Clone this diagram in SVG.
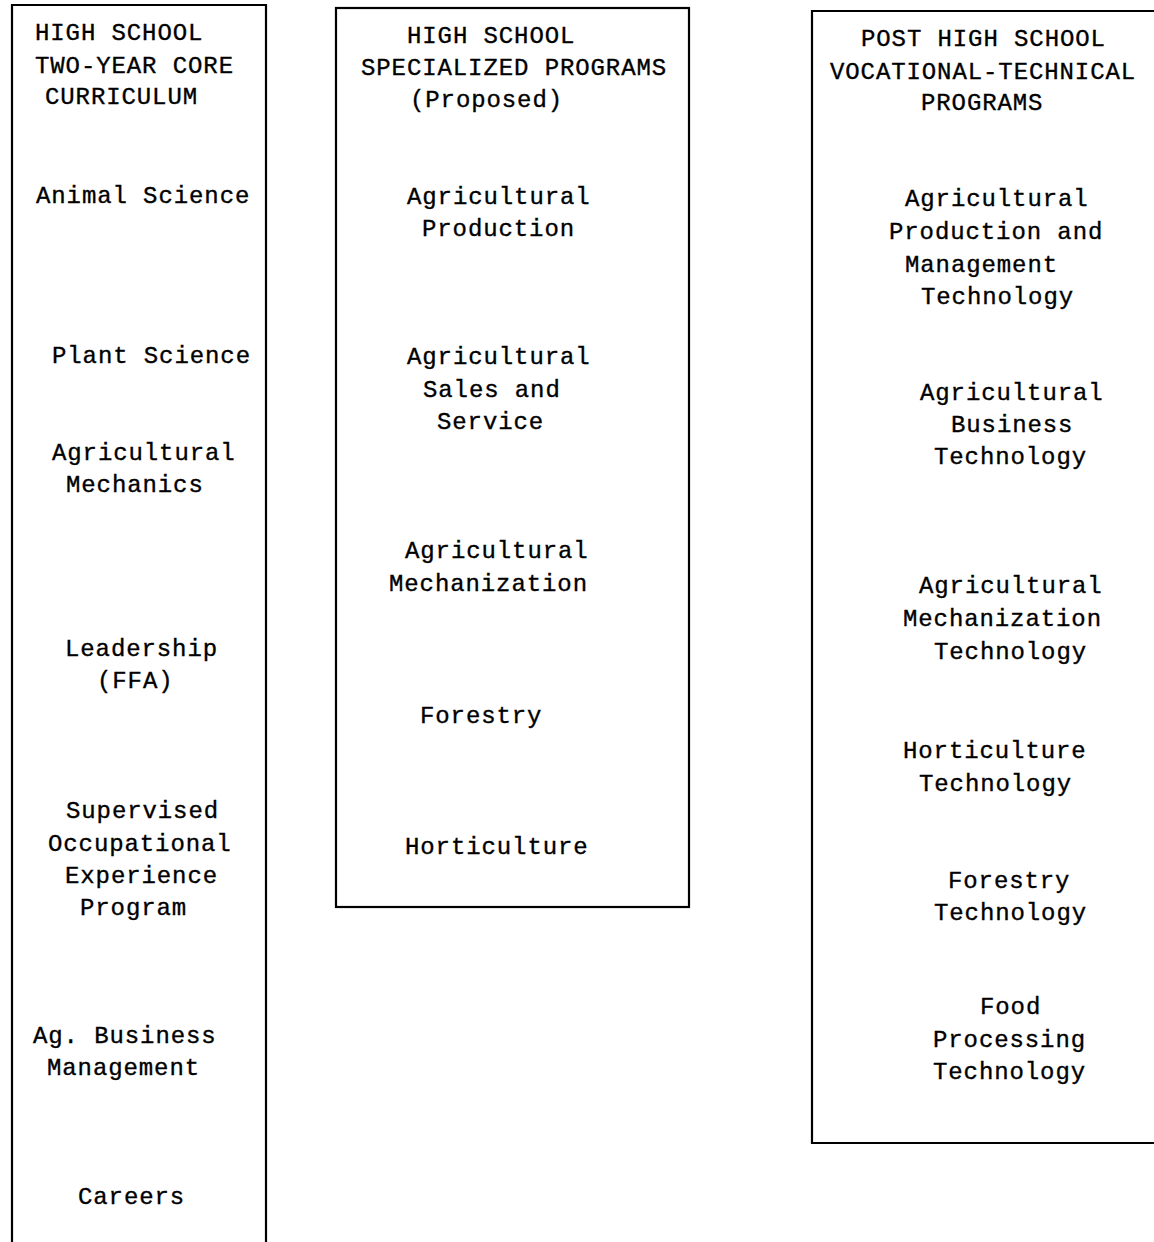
<svg xmlns="http://www.w3.org/2000/svg" width="1154" height="1242" viewBox="0 0 1154 1242">
<style>
  .box { fill: none; stroke: #000; stroke-width: 2.2; }
  text { font-family: "Liberation Mono", "Courier New", monospace; font-size: 24px; letter-spacing: 0.9px; fill: #000; stroke: #000; stroke-width: 0.35; }
</style>
<rect width="1154" height="1242" fill="#fff"/>
<g id="core">
  <path class="box" d="M12,1242 V5 H266 V1242"/>
  <text x="35" y="40">HIGH SCHOOL</text>
  <text x="35" y="73">TWO-YEAR CORE</text>
  <text x="45" y="104">CURRICULUM</text>
  <text x="36" y="203">Animal Science</text>
  <text x="52" y="363">Plant Science</text>
  <text x="52" y="460">Agricultural</text>
  <text x="66" y="492">Mechanics</text>
  <text x="65" y="656">Leadership</text>
  <text x="97" y="688">(FFA)</text>
  <text x="66" y="818">Supervised</text>
  <text x="48" y="851">Occupational</text>
  <text x="65" y="883">Experience</text>
  <text x="80" y="915">Program</text>
  <text x="33" y="1043">Ag. Business</text>
  <text x="47" y="1075">Management</text>
  <text x="78" y="1204">Careers</text>
</g>
<g id="specialized">
  <rect class="box" x="336" y="8" width="353" height="899"/>
  <text x="407" y="43">HIGH SCHOOL</text>
  <text x="361" y="75">SPECIALIZED PROGRAMS</text>
  <text x="410" y="107">(Proposed)</text>
  <text x="407" y="204">Agricultural</text>
  <text x="422" y="236">Production</text>
  <text x="407" y="364">Agricultural</text>
  <text x="423" y="397">Sales and</text>
  <text x="437" y="429">Service</text>
  <text x="405" y="558">Agricultural</text>
  <text x="389" y="591">Mechanization</text>
  <text x="420" y="723">Forestry</text>
  <text x="405" y="854">Horticulture</text>
</g>
<g id="post">
  <path class="box" d="M1154,11 H812 V1143 H1154"/>
  <text x="861" y="46">POST HIGH SCHOOL</text>
  <text x="830" y="79">VOCATIONAL-TECHNICAL</text>
  <text x="921" y="110">PROGRAMS</text>
  <text x="905" y="206">Agricultural</text>
  <text x="889" y="239">Production and</text>
  <text x="905" y="272">Management</text>
  <text x="921" y="304">Technology</text>
  <text x="920" y="400">Agricultural</text>
  <text x="951" y="432">Business</text>
  <text x="934" y="464">Technology</text>
  <text x="919" y="593">Agricultural</text>
  <text x="903" y="626">Mechanization</text>
  <text x="934" y="659">Technology</text>
  <text x="903" y="758">Horticulture</text>
  <text x="919" y="791">Technology</text>
  <text x="948" y="888">Forestry</text>
  <text x="934" y="920">Technology</text>
  <text x="980" y="1014">Food</text>
  <text x="933" y="1047">Processing</text>
  <text x="933" y="1079">Technology</text>
</g>
<g id="connectors"></g>
</svg>
